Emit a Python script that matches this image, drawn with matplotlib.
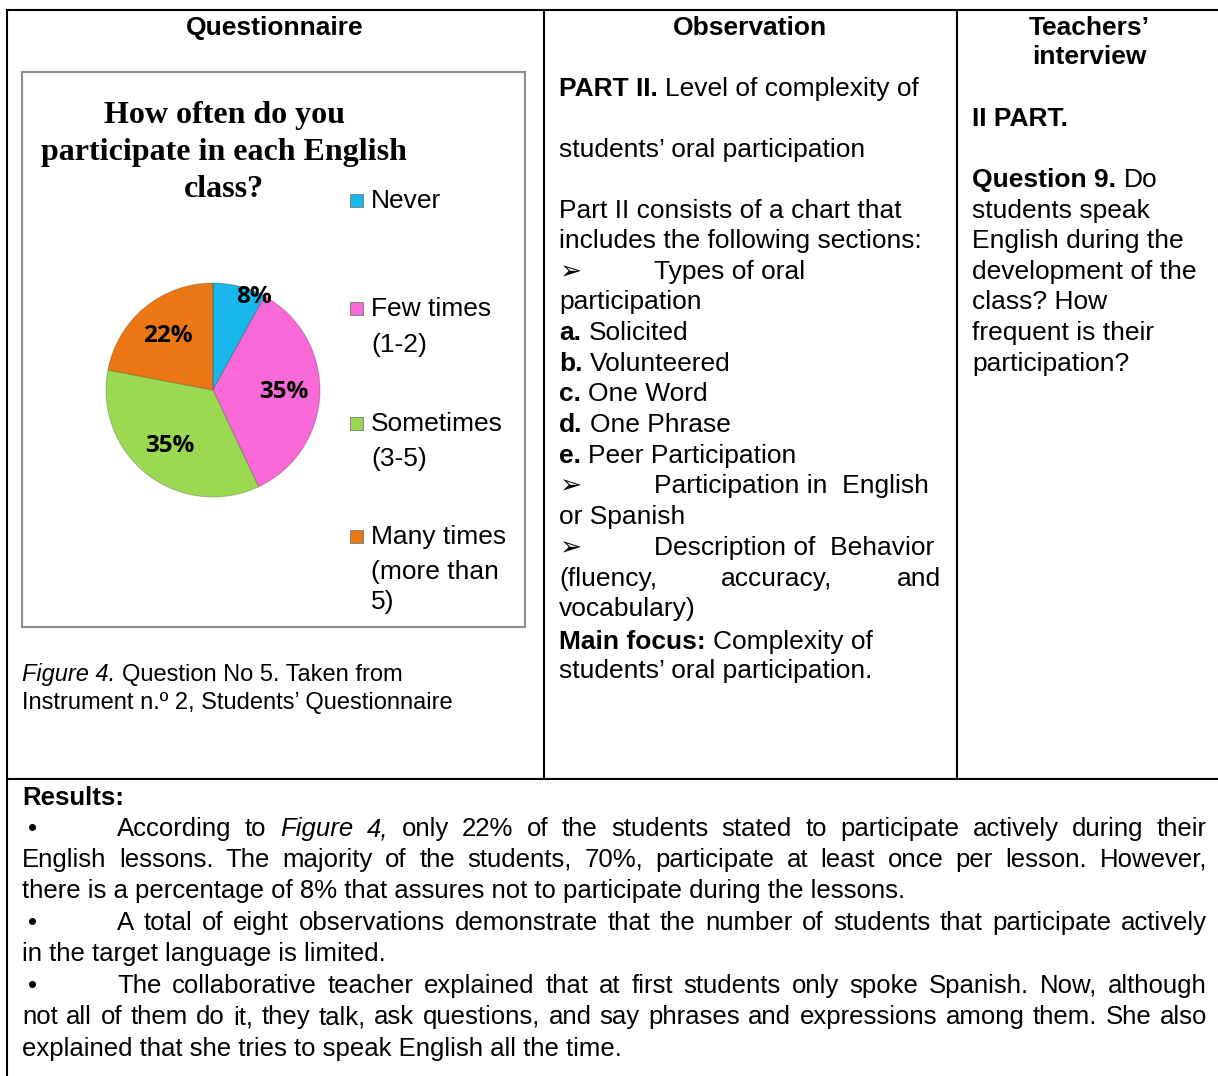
import matplotlib
matplotlib.use("Agg")
import matplotlib.pyplot as plt
from matplotlib.patches import Rectangle
import numpy as np

# ---------------- data ----------------
categories = ["Never", "Few times (1-2)", "Sometimes (3-5)", "Many times (more than 5)"]
legend_lines = [["Never"], ["Few times", "(1-2)"], ["Sometimes", "(3-5)"],
                ["Many times", "(more than", "5)"]]
shares = [8, 35, 35, 22]
slice_colors = ["#19B8EC", "#F96AD8", "#9CD952", "#EC7815"]
chart_title = "How often do you\nparticipate in each English\nclass?"

column_headers = ["Questionnaire", "Observation", "Teachers’\ninterview"]

caption_lines = [
    [("Figure 4.", "i"), (" Question No 5. Taken from", "r")],
    [("Instrument n.º 2, Students’ Questionnaire", "r")],
]

obs_lines = [
    ([("PART II.", "b"), (" Level of complexity of", "r")], "left"),
    ([("students’ oral participation", "r")], "left"),
    ([("Part II consists of a chart that", "r")], "left"),
    ([("includes the following sections:", "r")], "left"),
    ([("Types of oral", "r")], "arrow"),
    ([("participation", "r")], "left"),
    ([("a.", "b"), (" Solicited", "r")], "left"),
    ([("b.", "b"), (" Volunteered", "r")], "left"),
    ([("c.", "b"), (" One Word", "r")], "left"),
    ([("d.", "b"), (" One Phrase", "r")], "left"),
    ([("e.", "b"), (" Peer Participation", "r")], "left"),
    ([("Participation in  English", "r")], "arrow"),
    ([("or Spanish", "r")], "left"),
    ([("Description of  Behavior", "r")], "arrow"),
    ([("(fluency, accuracy, and", "r")], "just"),
    ([("vocabulary)", "r")], "left"),
    ([("Main focus:", "b"), (" Complexity of", "r")], "left"),
    ([("students’ oral participation.", "r")], "left"),
]

teacher_lines = [
    [("II PART.", "b")],
    [("Question 9.", "b"), (" Do", "r")],
    [("students speak", "r")],
    [("English during the", "r")],
    [("development of the", "r")],
    [("class? How", "r")],
    [("frequent is their", "r")],
    [("participation?", "r")],
]

results_title = "Results:"
results_lines = [
    ([("According to ", "r"), ("Figure 4,", "i"),
      (" only 22% of the students stated to participate actively during their", "r")], "bjust"),
    ([("English lessons. The majority of the students, 70%, participate at least once per lesson. However,", "r")], "just"),
    ([("there is a percentage of 8% that assures not to participate during the lessons.", "r")], "left"),
    ([("A total of eight observations demonstrate that the number of students that participate actively", "r")], "bjust"),
    ([("in the target language is limited.", "r")], "left"),
    ([("The collaborative teacher explained that at first students only spoke Spanish. Now, although", "r")], "bjust"),
    ([("not all of them do it, they talk, ask questions, and say phrases and expressions among them. She also", "r")], "just"),
    ([("explained that she tries to speak English all the time.", "r")], "left"),
]

# ---------------- layout ----------------
W, H = 1218, 1076
SANS = ["Liberation Sans", "DejaVu Sans"]
SIZE = 19
RSIZE = 18.5

fig = plt.figure(figsize=(W / 100, H / 100), dpi=100)
fig.patch.set_facecolor("white")
ov = fig.add_axes([0, 0, 1, 1])
ov.set_xlim(0, W)
ov.set_ylim(H, 0)
ov.axis("off")
R = fig.canvas.get_renderer()


def style_kw(st):
    kw = dict(family=SANS)
    if "b" in st:
        kw["weight"] = "bold"
    if "i" in st:
        kw["style"] = "italic"
    return kw


def measure(txt, st, size):
    t = ov.text(0, 0, txt, fontsize=size, **style_kw(st))
    w = t.get_window_extent(renderer=R).width
    t.remove()
    return w


def space_gap(size):
    return measure("n n", "r", size) - 2 * measure("n", "r", size)


def draw_line(segs, x0, x1, y, size=SIZE, mode="left"):
    if mode == "just":
        toks = []
        for txt, st in segs:
            for w in txt.split():
                toks.append((w, st))
        widths = [measure(w, st, size) for w, st in toks]
        gap = (x1 - x0 - sum(widths)) / (len(toks) - 1) if len(toks) > 1 else 0
        x = x0
        for (w, st), wd in zip(toks, widths):
            ov.text(x, y, w, fontsize=size, va="baseline", ha="left", color="black", **style_kw(st))
            x += wd + gap
    else:
        gap = space_gap(size)
        x = x0
        for txt, st in segs:
            s = txt.strip()
            ov.text(x, y, s, fontsize=size, va="baseline", ha="left", color="black", **style_kw(st))
            x += measure(s, st, size) + gap


# table rules
lw = 1.5
ov.plot([6, W], [10, 10], color="black", lw=lw, solid_capstyle="butt")
ov.plot([7, 7], [10, H], color="black", lw=lw, solid_capstyle="butt")
ov.plot([544, 544], [10, 779], color="black", lw=lw, solid_capstyle="butt")
ov.plot([957, 957], [10, 779], color="black", lw=lw, solid_capstyle="butt")
ov.plot([7, W], [779, 779], color="black", lw=lw, solid_capstyle="butt")

# column headers
ov.text(275, 35, column_headers[0], fontsize=SIZE, weight="bold", family=SANS, ha="center", va="baseline")
ov.text(750, 35, column_headers[1], fontsize=SIZE, weight="bold", family=SANS, ha="center", va="baseline")
h3a, h3b = column_headers[2].split("\n")
ov.text(1089, 35, h3a, fontsize=SIZE, weight="bold", family=SANS, ha="center", va="baseline")
ov.text(1089, 64, h3b, fontsize=SIZE, weight="bold", family=SANS, ha="center", va="baseline")

# chart box
ov.add_patch(Rectangle((22, 72), 503, 555, facecolor="white", edgecolor="#8c8c8c", lw=1.5))

# chart title
for i, line in enumerate(chart_title.split("\n")):
    ov.text(224, 123 + 37 * i, line, fontsize=23, weight="bold", family="Liberation Serif",
            ha="center", va="baseline")

# legend
legend_base = [[208], [316, 352], [431, 466], [544, 579, 609]]
for lines, bases, col in zip(legend_lines, legend_base, slice_colors):
    ov.add_patch(Rectangle((350, bases[0] - 14), 13, 13, facecolor=col, edgecolor="#777777", lw=0.6))
    for ln, b in zip(lines, bases):
        ov.text(371, b, ln, fontsize=SIZE, family=SANS, ha="left", va="baseline")

# pie
cx, cy, r = 213, 390, 107
pax = fig.add_axes([(cx - r) / W, (H - cy - r) / H, 2 * r / W, 2 * r / H])
wedges, _, autotexts = pax.pie(shares, colors=slice_colors, startangle=90, counterclock=False,
                               autopct=lambda p: f"{p:.0f}%", pctdistance=0.66,
                               wedgeprops=dict(edgecolor=(0, 0, 0, 0.2), linewidth=0.8),
                               textprops=dict(fontsize=17.5, weight="bold", family=["Open Sans", "DejaVu Sans"]))
pax.set_xlim(-1, 1)
pax.set_ylim(-1, 1)
pax.set_aspect("equal")
# small slice label sits near the rim
w0 = wedges[0]
ang = np.deg2rad((w0.theta1 + w0.theta2) / 2)
autotexts[0].set_position((0.9 * np.cos(ang) + 0.16, 0.9 * np.sin(ang)))

# caption
draw_line(caption_lines[0], 22, 530, 681, size=17)
draw_line(caption_lines[1], 22, 530, 709, size=17)

# observation column
obs_base = [96, 157, 218, 248, 279, 309, 340, 371, 401, 432, 463, 493, 524, 555, 586, 616, 649, 678]
for (segs, mode), b in zip(obs_lines, obs_base):
    if mode == "arrow":
        ov.text(559, b, "➢", fontsize=19, family=["DejaVu Sans"], ha="left", va="baseline")
        draw_line(segs, 654, 941, b)
    else:
        draw_line(segs, 559, 941, b, mode=mode)

# teachers column
teacher_base = [126, 187, 218, 248, 279, 309, 340, 371]
for segs, b in zip(teacher_lines, teacher_base):
    draw_line(segs, 972, 1210, b)

# results
ov.text(22, 805, results_title, fontsize=RSIZE, weight="bold", family=SANS, ha="left", va="baseline")
res_base = [836, 867, 898, 930, 961, 993, 1024, 1056]
for (segs, mode), b in zip(results_lines, res_base):
    if mode == "bjust":
        ov.text(28, b, "•", fontsize=RSIZE, family=SANS, ha="left", va="baseline")
        draw_line(segs, 117, 1207, b, size=RSIZE, mode="just")
    else:
        draw_line(segs, 22, 1207, b, size=RSIZE, mode=mode)

fig.savefig("out.png", dpi=100, facecolor="white")
